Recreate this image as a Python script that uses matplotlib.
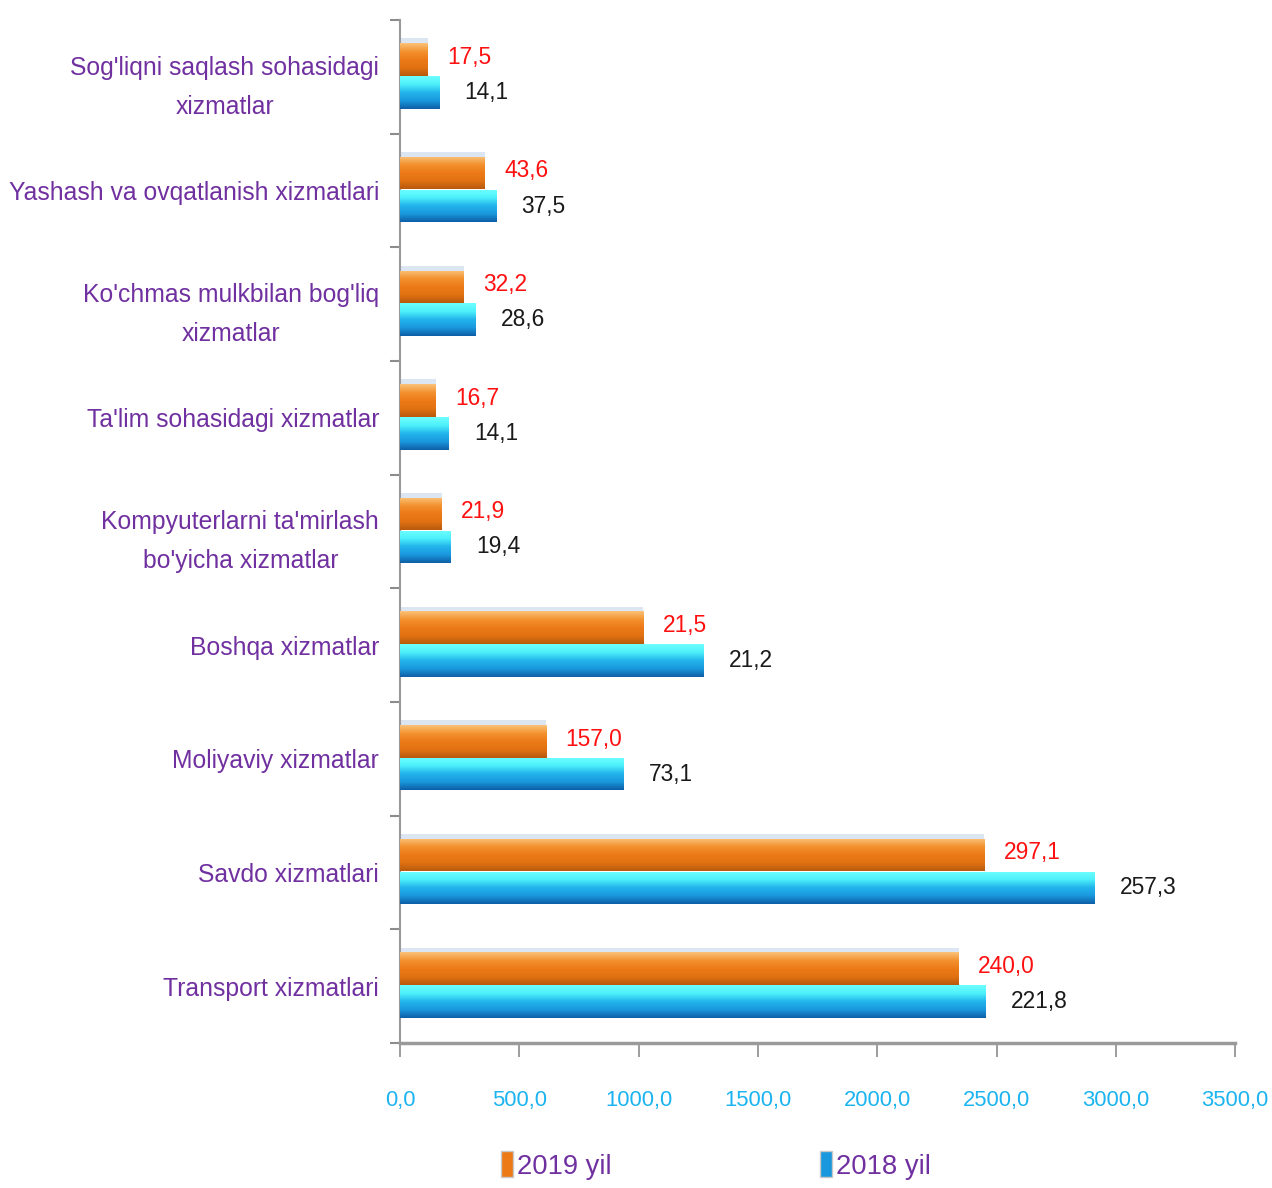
import numpy as np
import matplotlib
matplotlib.use('Agg')
import matplotlib.pyplot as plt
from matplotlib.colors import LinearSegmentedColormap
from matplotlib.patches import Patch

# categories, top to bottom
categories = [
    "Sog'liqni saqlash sohasidagi\nxizmatlar",
    "Yashash va ovqatlanish xizmatlari",
    "Ko'chmas mulkbilan bog'liq\nxizmatlar",
    "Ta'lim sohasidagi xizmatlar",
    "Kompyuterlarni ta'mirlash\nbo'yicha xizmatlar",
    "Boshqa xizmatlar",
    "Moliyaviy xizmatlar",
    "Savdo xizmatlari",
    "Transport xizmatlari",
]
# bar lengths
vals_2019 = [117, 355, 268, 150, 175, 1020, 612, 2448, 2342]
vals_2018 = [165, 405, 316, 205, 213, 1272, 938, 2912, 2455]
# numbers printed next to the bars
labels_2019 = ["17,5", "43,6", "32,2", "16,7", "21,9", "21,5", "157,0", "297,1", "240,0"]
labels_2018 = ["14,1", "37,5", "28,6", "14,1", "19,4", "21,2", "73,1", "257,3", "221,8"]
series_names = ["2019 yil", "2018 yil"]
xticks = [0, 500, 1000, 1500, 2000, 2500, 3000, 3500]

plt.rcParams['font.family'] = ['Liberation Sans', 'DejaVu Sans']

purple = '#7030A0'
orange_cm = LinearSegmentedColormap.from_list(
    'org', ['#FBC27A', '#F39230', '#EC7A17', '#E27212', '#B85A0E'])
blue_cm = LinearSegmentedColormap.from_list(
    'blu', ['#6EFFFF', '#4DF0FA', '#22B4EC', '#1A98DE', '#0E5FA6'])

fig = plt.figure(figsize=(12.72, 11.88), dpi=100)
ax = fig.add_axes([0.3145, 0.122, 0.6565, 0.861])

y = np.arange(len(categories))
h = 0.285
off_o = -0.155
off_b = 0.135

# light top face above the orange bars
ax.barh(y + off_o - h / 2 - 0.02, vals_2019, height=0.045, color='#DCE6F2', zorder=2)
bars_o = ax.barh(y + off_o, vals_2019, height=h, color='#EC7A17', zorder=3)
bars_b = ax.barh(y + off_b, vals_2018, height=h, color='#1A98DE', zorder=3)

grad = np.linspace(0, 1, 64).reshape(-1, 1)
for bars, cm in ((bars_o, orange_cm), (bars_b, blue_cm)):
    for p in bars:
        x0, y0 = p.get_x(), p.get_y()
        x1, y1 = x0 + p.get_width(), y0 + p.get_height()
        im = ax.imshow(grad, extent=(x0, x1, y1, y0), origin='upper',
                       aspect='auto', cmap=cm, zorder=4, interpolation='bilinear')
        im.set_clip_path(p)

for i in range(len(categories)):
    ax.annotate(labels_2019[i], (vals_2019[i], y[i] + off_o - 0.02), xytext=(14, 0),
                textcoords='offset points', ha='left', va='center',
                color='#FF1010', fontsize=16.4, zorder=5)
    ax.annotate(labels_2018[i], (vals_2018[i], y[i] + off_b), xytext=(18, 0),
                textcoords='offset points', ha='left', va='center',
                color='#1A1A1A', fontsize=16.4, zorder=5)

ax.set_xlim(0, 3500)
ax.set_ylim(len(categories) - 0.5, -0.5)

ax.set_yticks(y)
ax.set_yticklabels(categories, color=purple, fontsize=17.8, ha='right',
                   multialignment='center', linespacing=1.8)
ax.tick_params(axis='y', which='major', length=0, pad=15)
ax.set_yticks(np.arange(len(categories) + 1) - 0.5, minor=True)
ax.tick_params(axis='y', which='minor', length=7, width=1.5, color='#8C8C8C')

ax.set_xticks(xticks)
ax.set_xticklabels([f"{v:.1f}".replace('.', ',') for v in xticks],
                   color='#1CB4F0', fontsize=15.8)
ax.tick_params(axis='x', length=10, width=1.2, color='#8C8C8C', pad=24)

for s in ('top', 'right'):
    ax.spines[s].set_visible(False)
ax.spines['left'].set_color('#9A9A9A')
ax.spines['left'].set_linewidth(1.5)
ax.spines['bottom'].set_color('#9A9A9A')
ax.spines['bottom'].set_linewidth(2.5)

handles = [Patch(facecolor='#EC7A17', edgecolor='#C8C8C8'),
           Patch(facecolor='#1A98DE', edgecolor='#C8C8C8')]
leg = fig.legend(handles, series_names, loc='center', bbox_to_anchor=(0.563, 0.019),
                 ncol=2, frameon=False, fontsize=19.7, handlelength=0.45,
                 handleheight=1.1, handletextpad=0.15, columnspacing=7.6)
for t in leg.get_texts():
    t.set_color(purple)

fig.savefig('out.png', dpi=100)
